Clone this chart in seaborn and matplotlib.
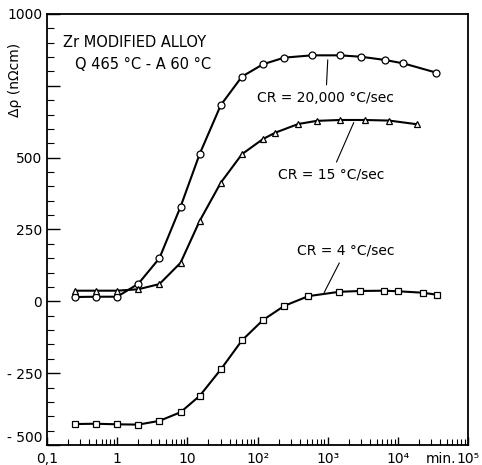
import numpy as np
import pandas as pd
import matplotlib.pyplot as plt
import matplotlib.ticker as mticker
import seaborn as sns

# Data (time in min, resistivity change in nOhm cm)
t_fast = [0.25, 0.5, 1, 2, 4, 8, 15, 30, 60, 120, 240, 600, 1500, 3000, 6500, 12000, 35000]
r_fast = [15, 16, 16, 61, 150, 329, 513, 683, 782, 825, 848, 856, 856, 851, 840, 828, 796]

t_mid = [0.25, 0.5, 1, 2, 4, 8, 15, 30, 60, 120, 180, 380, 700, 1500, 3400, 7500, 19000]
r_mid = [37, 37, 37, 42, 60, 134, 280, 413, 512, 565, 587, 617, 628, 631, 631, 629, 616]

t_slow = [0.25, 0.5, 1, 2, 4, 8, 15, 30, 60, 120, 240, 530, 1450, 2900, 6400, 10000, 22500, 36000]
r_slow = [-427, -426, -428, -429, -416, -386, -329, -237, -136, -65, -16, 18, 33, 36, 37, 35, 30, 23]

y_ticks = [-500, -250, 0, 250, 500, 750, 1000]
y_labels = ["- 500", "- 250", "0", "250", "500", "", "1000"]
x_ticks = [0.1, 1, 10, 100, 1000, 10000, 100000]
x_labels = ["0,1", "1", "10", "10²", "10³", "10⁴", "10⁵"]


def main():
    sns.set_style("ticks")
    plt.rcParams["font.family"] = ["DejaVu Sans"]
    plt.rcParams["xtick.direction"] = "in"
    plt.rcParams["ytick.direction"] = "in"
    for key in ["text.color", "axes.labelcolor", "xtick.color", "ytick.color", "axes.edgecolor"]:
        plt.rcParams[key] = "black"

    fig = plt.figure(figsize=(4.82, 4.65), dpi=100)
    ax = fig.add_axes([0.0975, 0.043, 0.8735, 0.927])

    series = [
        (t_fast, r_fast, "o"),
        (t_mid, r_mid, "^"),
        (t_slow, r_slow, "s"),
    ]
    for t, r, m in series:
        df = pd.DataFrame({"t": t, "r": r})
        sns.lineplot(data=df, x="t", y="r", ax=ax, color="black", linewidth=1.5,
                     marker=m, markersize=5, markerfacecolor="white",
                     markeredgecolor="black", markeredgewidth=0.9, sort=False)

    ax.set_xscale("log")
    ax.set_xlim(0.1, 1e5)
    ax.set_ylim(-500, 1000)

    ax.set_xticks(x_ticks)
    ax.set_xticklabels(x_labels, fontsize=10)
    ax.xaxis.set_minor_locator(mticker.LogLocator(base=10, subs=np.arange(2, 10), numticks=20))
    ax.xaxis.set_minor_formatter(mticker.NullFormatter())
    ax.set_yticks(y_ticks)
    ax.set_yticklabels(y_labels, fontsize=10)
    ax.yaxis.set_minor_locator(mticker.MultipleLocator(50))
    ax.get_yticklabels()[0].set_va("bottom")

    ax.tick_params(axis="y", which="major", length=9, width=1)
    ax.tick_params(axis="y", which="minor", length=5, width=0.8)
    ax.tick_params(axis="x", which="major", length=6, width=1, pad=5)
    ax.tick_params(axis="x", which="minor", length=4, width=0.8)
    for s in ax.spines.values():
        s.set_linewidth(1.3)

    ax.set_xlabel("")
    ax.set_ylabel("Δρ (nΩcm)", fontsize=10)
    ax.yaxis.set_label_coords(-0.06, 0.847)

    ax.text(0.038, 0.933, "Zr MODIFIED ALLOY", transform=ax.transAxes,
            fontsize=10.5, va="center", ha="left")
    ax.text(0.066, 0.882, "Q 465 °C - A 60 °C", transform=ax.transAxes,
            fontsize=10.5, va="center", ha="left")
    # unit written next to the 10^4 label, as in the original
    ax.text(0.936, -0.016, "min.", transform=ax.transAxes, fontsize=10,
            va="top", ha="center")

    lbl = dict(arrowprops=dict(arrowstyle="-", color="black", lw=0.8),
               fontsize=10, ha="center", va="center")
    ax.annotate("CR = 20,000 °C/sec", xy=(1007, 850), xytext=(942, 708),
                **lbl)
    ax.annotate("CR = 15 °C/sec", xy=(2440, 631), xytext=(1111, 440), **lbl)
    ax.annotate("CR = 4 °C/sec", xy=(855, 22), xytext=(1815, 178), **lbl)

    fig.savefig("out.png", dpi=100)
    plt.close(fig)


if __name__ == "__main__":
    main()
